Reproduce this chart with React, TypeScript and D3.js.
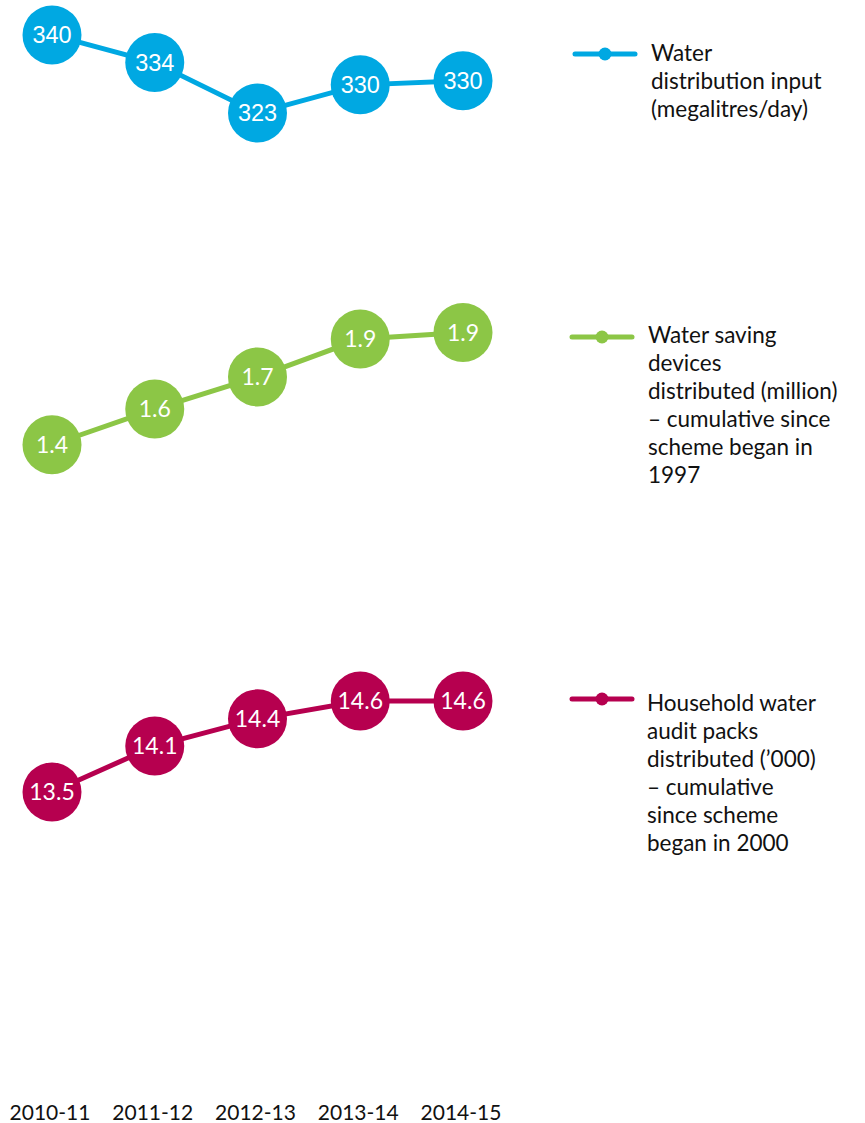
import React from "react";
import * as d3 from "d3";

const years = ["2010-11", "2011-12", "2012-13", "2013-14", "2014-15"];

const waterInput = [340.4, 334.4, 323.45, 329.55, 330.45];
const savingDevices = [1.372, 1.555, 1.72, 1.914, 1.948];
const auditPacks = [13.53, 14.07, 14.39, 14.6, 14.6];

const legendWaterInput = ["Water", "distribution input", "(megalitres/day)"];
const legendDevices = ["Water saving", "devices", "distributed (million)", "– cumulative since", "scheme began in", "1997"];
const legendAudit = ["Household water", "audit packs", "distributed (’000)", "– cumulative", "since scheme", "began in 2000"];

const W = 865;
const H = 1123;

type Series = {
  values: number[];
  color: string;
  fmt: (n: number) => string;
  domain: [number, number];
  range: [number, number];
  labelFont: string;
  labelSize: number;
  legend: string[];
  legendY: number;
  legendX: number;
  legendTextX: number;
  legendBaseline: number;
};

const series: Series[] = [
  {
    values: waterInput,
    color: "#00a8e2",
    fmt: d3.format(".0f"),
    domain: [320, 345],
    range: [128.8, 13.8],
    labelFont: "'Liberation Sans', Arial, sans-serif",
    labelSize: 23.5,
    legend: legendWaterInput,
    legendY: 54,
    legendX: 575,
    legendTextX: 651,
    legendBaseline: 61,
  },
  {
    values: savingDevices,
    color: "#8cc646",
    fmt: d3.format(".1f"),
    domain: [1.3, 2.0],
    range: [458.8, 322.3],
    labelFont: "Lato, sans-serif",
    labelSize: 23,
    legend: legendDevices,
    legendY: 337,
    legendX: 572,
    legendTextX: 648,
    legendBaseline: 343,
  },
  {
    values: auditPacks,
    color: "#b6004f",
    fmt: d3.format(".1f"),
    domain: [13.5, 14.7],
    range: [794.5, 692.5],
    labelFont: "Lato, sans-serif",
    labelSize: 23,
    legend: legendAudit,
    legendY: 699,
    legendX: 572,
    legendTextX: 647,
    legendBaseline: 711,
  },
];

export default function App() {
  const x = d3.scalePoint<string>().domain(years).range([52, 463]);
  const lineH = 28;

  return (
    <svg
      width={W}
      height={H}
      style={{ position: "absolute", left: 0, top: 0, background: "#fff" }}
    >
      {series.map((s, si) => {
        const y = d3.scaleLinear().domain(s.domain).range(s.range);
        const line = d3
          .line<number>()
          .x((_, i) => x(years[i])!)
          .y((v) => y(v));
        return (
          <g key={si}>
            <path d={line(s.values) || ""} fill="none" stroke={s.color} strokeWidth={5} />
            {s.values.map((v, i) => (
              <g key={i} transform={`translate(${x(years[i])},${y(v)})`}>
                <circle r={29.5} fill={s.color} />
                <text
                  textAnchor="middle"
                  dy="0.36em"
                  fill="#fff"
                  fontFamily={s.labelFont}
                  fontSize={s.labelSize}
                  fontWeight={400}
                >
                  {s.fmt(v)}
                </text>
              </g>
            ))}
            <line
              x1={s.legendX}
              x2={s.legendX + 60}
              y1={s.legendY}
              y2={s.legendY}
              stroke={s.color}
              strokeWidth={5}
              strokeLinecap="round"
            />
            <circle cx={s.legendX + 30} cy={s.legendY} r={6.5} fill={s.color} />
            <text fontFamily="Lato, sans-serif" fontSize={22.5} fill="#111">
              {s.legend.map((t, li) => (
                <tspan key={li} x={s.legendTextX} y={s.legendBaseline + li * lineH}>
                  {t}
                </tspan>
              ))}
            </text>
          </g>
        );
      })}
      {years.map((yr) => (
        <text
          key={yr}
          x={x(yr)! - 2}
          y={1120}
          textAnchor="middle"
          fontFamily="Lato, sans-serif"
          fontSize={21}
          fill="#111"
        >
          {yr}
        </text>
      ))}
    </svg>
  );
}
